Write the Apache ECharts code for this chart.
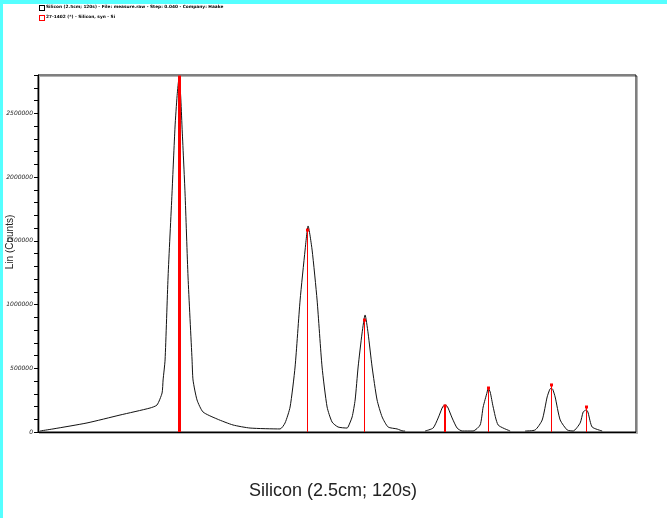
<!DOCTYPE html>
<html>
<head>
<meta charset="utf-8">
<script src="https://cdn.jsdelivr.net/npm/echarts@6/dist/echarts.min.js"></script>
<style>html,body{margin:0;padding:0;background:#fff}#c{width:667px;height:518px}</style>
</head>
<body>
<div id="c"></div>
<script>
const scanX = [0.1011,0.1215,0.1748,0.2265,0.2735,0.2845,0.2924,0.2940,0.2971,0.3018,0.3080,0.3127,0.3160,0.3190,0.3215,0.3237,0.3284,0.3331,0.3394,0.3409,0.3472,0.3566,0.3786,0.4036,0.4303,0.4773,
  0.4851,0.4930,0.5008,0.5087,0.5165,0.5212,0.5275,0.5353,0.5431,0.5510,0.5588,0.5682,0.5823,
  0.5839,0.5902,0.5949,0.5996,0.6058,0.6105,0.6152,0.6215,0.6293,0.6372,0.6466,0.6607,0.6701,0.6732,
  0.6880,
  0.7046,0.7171,0.7250,0.7312,0.7335,0.7359,0.7383,0.7406,0.7469,0.7547,0.7626,0.7798,0.7908,0.7955,0.8018,0.8033,0.8065,0.8112,0.8190,0.8378,
  0.8500,
  0.8613,0.8770,0.8880,0.8958,0.9000,0.9021,0.9045,0.9083,0.9162,0.9272,0.9366,0.9475,0.9522,0.9555,0.9569,0.9585,0.9601,0.9663,0.9820];
const scanCounts = [8000,24000,71000,133000,188000,212000,306000,408000,565000,1216000,1874000,2392000,2640000,2776000,2640000,2392000,1874000,1216000,565000,408000,251000,157000,102000,55000,31000,24000,
  71000,196000,510000,1035000,1427000,1616000,1427000,1035000,510000,196000,78000,39000,31000,
  39000,118000,251000,510000,776000,918000,776000,510000,251000,118000,39000,24000,8000,8000,
  null,
  8000,31000,110000,188000,206000,212000,206000,188000,110000,31000,8000,8000,55000,196000,314000,345000,314000,196000,55000,8000,
  null,
  8000,16000,94000,275000,335000,345000,335000,275000,94000,16000,8000,71000,157000,170000,173000,168000,149000,39000,8000];
// reference pattern 27-1402 Silicon, syn
const refX = [0.3190,0.5196,0.6089,0.7359,0.8033,0.9021,0.9569];
const refCounts = [2784000,1584000,878000,204000,345000,369000,196000];
const yTickLabels = [0,500000,1000000,1500000,2000000,2500000];

const chart = echarts.init(document.getElementById('c'), null, {renderer:'canvas'});
const stickWidths = [3,1,1,2,1,1,1];
const option = {
  animation:false,
  backgroundColor:'#fff',
  grid:{left:38, top:75, right:31, bottom:86, show:true, borderColor:'#000', borderWidth:1,
        shadowColor:'rgba(0,0,0,0.3)', shadowOffsetX:1.5, shadowOffsetY:1.5, shadowBlur:0},
  xAxis:{type:'value', min:0.098, max:1.035, axisLine:{show:true,onZero:false,lineStyle:{color:'#000'}},
    axisTick:{show:false}, axisLabel:{show:false}, splitLine:{show:false}},
  yAxis:{type:'value', min:0, max:2800000, interval:100000,
    axisLine:{show:true,lineStyle:{color:'#000'}},
    axisTick:{show:true,inside:false,length:4,lineStyle:{color:'#000'}},
    splitLine:{show:false},
    axisLabel:{margin:5, fontSize:6, color:'#222', fontFamily:'DejaVu Sans', fontStyle:'italic',
      formatter:function(v){return yTickLabels.indexOf(v)>=0 ? String(v) : '';}}},
  series:[
    {type:'line', data:scanX.map((x,i)=>[x, scanCounts[i]]), showSymbol:false, connectNulls:false,
     lineStyle:{color:'#111', width:1}, smooth:0.2, z:3},
    {type:'custom', data:refX.map((x,i)=>[x, refCounts[i]]), z:4,
     renderItem:function(params, api){
       const x = api.value(0), h = api.value(1);
       const p0 = api.coord([x,0]), p1 = api.coord([x,h]);
       const w = stickWidths[params.dataIndex];
       const cx = Math.round(p0[0]) + (w%2 ? 0.5 : 0);
       return {type:'group', children:[
         {type:'line', shape:{x1:cx,y1:p0[1],x2:cx,y2:p1[1]}, style:{stroke:'#ff0000', lineWidth:w}},
         {type:'rect', shape:{x:cx-1.5, y:p1[1]-1.5, width:3, height:3}, style:{fill:'#ff0000'}}
       ]};
     }}
  ],
  graphic:[
    {type:'rect', left:0, top:0, shape:{width:667, height:4}, style:{fill:'#55ffff'}, z:10},
    {type:'rect', left:0, top:0, shape:{width:3, height:518}, style:{fill:'#55ffff'}, z:10},
    {type:'rect', left:39, top:5, shape:{width:6, height:6}, style:{fill:'#000'}},
    {type:'rect', left:40, top:6, shape:{width:4, height:4}, style:{fill:'#fff'}},
    {type:'rect', left:39, top:15, shape:{width:6, height:6}, style:{fill:'#ff0000'}},
    {type:'rect', left:40, top:16, shape:{width:4, height:4}, style:{fill:'#fff'}},
    {type:'text', left:46, top:5, style:{text:'Silicon (2.5cm; 120s) - File: measure.raw - Step: 0.040 - Company: Haake', fontSize:4.3, fill:'#000', fontFamily:'DejaVu Sans', fontWeight:'bold'}},
    {type:'text', left:46, top:15, style:{text:'27-1402 (*) - Silicon, syn - Si', fontSize:4.3, fill:'#000', fontFamily:'DejaVu Sans', fontWeight:'bold'}},
    {type:'text', x:10, y:242, rotation:Math.PI/2, style:{text:'Lin (Counts)', fontSize:10, fill:'#222', fontFamily:'Liberation Sans', align:'center', verticalAlign:'middle'}},
    {type:'text', x:333, y:491, style:{text:'Silicon (2.5cm; 120s)', fontSize:18, fill:'#222', fontFamily:'Liberation Sans', align:'center', verticalAlign:'middle'}}
  ]
};
chart.setOption(option);
</script>
</body>
</html>
